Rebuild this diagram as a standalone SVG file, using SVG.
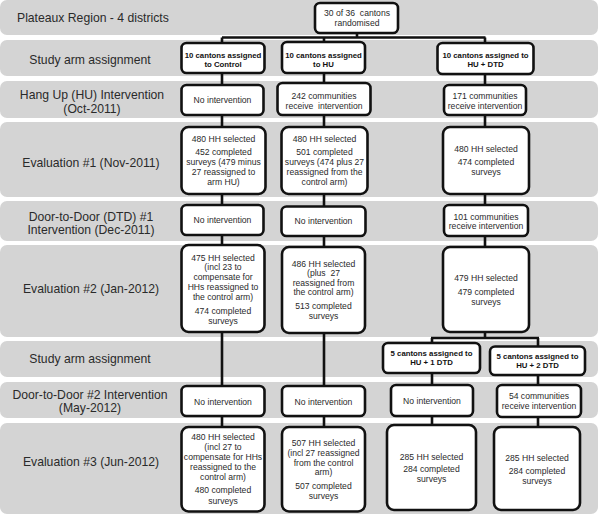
<svg xmlns="http://www.w3.org/2000/svg" width="600" height="514" viewBox="0 0 600 514">
<style>
.band{fill:#d4d4d4}
.lbl{font-family:"Liberation Sans",Arial,sans-serif;font-size:12.2px;fill:#2a2a2a;text-anchor:middle}
.box{fill:#fff;stroke:#111;stroke-width:2.6}
.t{font-family:"Liberation Sans",Arial,sans-serif;font-size:8.6px;fill:#2a2a2a;text-anchor:middle}
.b{font-weight:bold;fill:#111;font-size:7.8px}
.ln{stroke:#111;stroke-width:2.6;fill:none}
</style>
<g id="bands">
<rect class="band" x="0" y="0" width="598" height="35" rx="7"/>
<rect class="band" x="0" y="40" width="598" height="36" rx="7"/>
<rect class="band" x="0" y="81" width="598" height="37" rx="7"/>
<rect class="band" x="0" y="122" width="598" height="75" rx="7"/>
<rect class="band" x="0" y="201" width="598" height="40" rx="7"/>
<rect class="band" x="0" y="245" width="598" height="92" rx="7"/>
<rect class="band" x="0" y="341" width="598" height="36" rx="7"/>
<rect class="band" x="0" y="382" width="598" height="36" rx="7"/>
<rect class="band" x="0" y="423" width="598" height="91" rx="7"/>
</g>
<g id="labels">
<text class="lbl" x="17" y="21.5" style="text-anchor:start">Plateaux Region - 4 districts</text>
<text class="lbl" x="90" y="64">Study arm assignment</text>
<text class="lbl" x="92" y="98.5">Hang Up (HU) Intervention</text>
<text class="lbl" x="92" y="112.5">(Oct-2011)</text>
<text class="lbl" x="91" y="167">Evaluation #1 (Nov-2011)</text>
<text class="lbl" x="91" y="221">Door-to-Door (DTD) #1</text>
<text class="lbl" x="91" y="234">Intervention (Dec-2011)</text>
<text class="lbl" x="91" y="293">Evaluation #2 (Jan-2012)</text>
<text class="lbl" x="90" y="363">Study arm assignment</text>
<text class="lbl" x="90" y="399">Door-to-Door #2 Intervention</text>
<text class="lbl" x="90" y="412">(May-2012)</text>
<text class="lbl" x="91" y="466">Evaluation #3 (Jun-2012)</text>
</g>
<g id="connectors">
<path class="ln" d="M357 33V37.5M222 37.5H485.5M222 37.5V427M324 37.5V427M485 37.5V338M431 338H539M432 338V425M538 338V427"/>
</g>
<g id="randomised">
<rect class="box" x="315" y="3" width="83" height="30" rx="5"/>
<text class="t" x="357" y="16" xml:space="preserve">30 of 36  cantons</text>
<text class="t" x="357" y="25.5">randomised</text>
</g>
<g id="arm-control">
<rect class="box" x="181.5" y="43" width="83" height="30" rx="5"/>
<text class="t b" x="223" y="57.5">10 cantons assigned</text>
<text class="t b" x="223" y="66.5">to Control</text>
</g>
<g id="arm-hu">
<rect class="box" x="282" y="42" width="83" height="31" rx="5"/>
<text class="t b" x="323.5" y="57.5">10 cantons assigned</text>
<text class="t b" x="323.5" y="66.5">to HU</text>
</g>
<g id="arm-hudtd">
<rect class="box" x="437.5" y="43" width="96" height="31" rx="5"/>
<text class="t b" x="485.5" y="57.5">10 cantons assigned to</text>
<text class="t b" x="485.5" y="66.5">HU + DTD</text>
</g>
<g id="hu-control">
<rect class="box" x="181.5" y="85" width="82" height="30" rx="5"/>
<text class="t" x="222.5" y="103">No intervention</text>
</g>
<g id="hu-hu">
<rect class="box" x="277.5" y="83" width="93" height="32" rx="5"/>
<text class="t" x="324" y="99">242 communities</text>
<text class="t" x="324" y="108.5" xml:space="preserve">receive  intervention</text>
</g>
<g id="hu-hudtd">
<rect class="box" x="444" y="85" width="82" height="30" rx="5"/>
<text class="t" x="485" y="99">171 communities</text>
<text class="t" x="485" y="108.5">receive intervention</text>
</g>
<g id="eval1-control">
<rect class="box" x="181.5" y="127" width="84" height="67" rx="7"/>
<text class="t" x="223.5" y="142">480 HH selected</text>
<text class="t" x="223.5" y="155">452 completed</text>
<text class="t" x="223.5" y="165">surveys (479 minus</text>
<text class="t" x="223.5" y="175">27 reassigned to</text>
<text class="t" x="223.5" y="185">arm HU)</text>
</g>
<g id="eval1-hu">
<rect class="box" x="281.5" y="127" width="86" height="67" rx="7"/>
<text class="t" x="324.5" y="142">480 HH selected</text>
<text class="t" x="324.5" y="155">501 completed</text>
<text class="t" x="324.5" y="165">surveys (474 plus 27</text>
<text class="t" x="324.5" y="175">reassigned from the</text>
<text class="t" x="324.5" y="185">control arm)</text>
</g>
<g id="eval1-hudtd">
<rect class="box" x="443" y="127" width="86" height="67" rx="7"/>
<text class="t" x="486" y="152">480 HH selected</text>
<text class="t" x="486" y="165">474 completed</text>
<text class="t" x="486" y="175">surveys</text>
</g>
<g id="dtd1-control">
<rect class="box" x="181.5" y="205" width="82" height="30" rx="5"/>
<text class="t" x="222.5" y="223">No intervention</text>
</g>
<g id="dtd1-hu">
<rect class="box" x="281.5" y="206.5" width="84" height="29.5" rx="5"/>
<text class="t" x="323.5" y="224">No intervention</text>
</g>
<g id="dtd1-hudtd">
<rect class="box" x="444" y="205" width="84" height="31" rx="5"/>
<text class="t" x="486" y="219.5">101 communities</text>
<text class="t" x="486" y="229">receive intervention</text>
</g>
<g id="eval2-control">
<rect class="box" x="181.5" y="245" width="83" height="87" rx="7"/>
<text class="t" x="223" y="261">475 HH selected</text>
<text class="t" x="223" y="270">(incl 23 to</text>
<text class="t" x="223" y="280">compensate for</text>
<text class="t" x="223" y="290">HHs reassigned to</text>
<text class="t" x="223" y="300">the control arm)</text>
<text class="t" x="223" y="314">474 completed</text>
<text class="t" x="223" y="324">surveys</text>
</g>
<g id="eval2-hu">
<rect class="box" x="282" y="247" width="83" height="86" rx="7"/>
<text class="t" x="323.5" y="267">486 HH selected</text>
<text class="t" x="323.5" y="276" xml:space="preserve">(plus  27</text>
<text class="t" x="323.5" y="286">reassigned from</text>
<text class="t" x="323.5" y="295">the control arm)</text>
<text class="t" x="323.5" y="309">513 completed</text>
<text class="t" x="323.5" y="319">surveys</text>
</g>
<g id="eval2-hudtd">
<rect class="box" x="443" y="247" width="86" height="85" rx="7"/>
<text class="t" x="486" y="281">479 HH selected</text>
<text class="t" x="486" y="295">479 completed</text>
<text class="t" x="486" y="305">surveys</text>
</g>
<g id="arm-hu1dtd">
<rect class="box" x="383" y="343" width="97" height="30" rx="5"/>
<text class="t b" x="431.5" y="355.5">5 cantons assigned to</text>
<text class="t b" x="431.5" y="364.5">HU + 1 DTD</text>
</g>
<g id="arm-hu2dtd">
<rect class="box" x="490" y="346.5" width="95" height="28.5" rx="5"/>
<text class="t b" x="537.5" y="358.5">5 cantons assigned to</text>
<text class="t b" x="537.5" y="367.5">HU + 2 DTD</text>
</g>
<g id="dtd2-control">
<rect class="box" x="181.5" y="386" width="83" height="30" rx="5"/>
<text class="t" x="223" y="405">No intervention</text>
</g>
<g id="dtd2-hu">
<rect class="box" x="282" y="386" width="83" height="30" rx="5"/>
<text class="t" x="323.5" y="405">No intervention</text>
</g>
<g id="dtd2-hu1dtd">
<rect class="box" x="391" y="385" width="82" height="31" rx="5"/>
<text class="t" x="432" y="404">No intervention</text>
</g>
<g id="dtd2-hu2dtd">
<rect class="box" x="497" y="385" width="84" height="32" rx="5"/>
<text class="t" x="539" y="399">54 communities</text>
<text class="t" x="539" y="408.5">receive intervention</text>
</g>
<g id="eval3-control">
<rect class="box" x="181.5" y="427" width="83" height="84.5" rx="7"/>
<text class="t" x="223" y="440">480 HH selected</text>
<text class="t" x="223" y="449.5">(incl 27 to</text>
<text class="t" x="223" y="459.5">compensate for HHs</text>
<text class="t" x="223" y="469.5">reassigned to the</text>
<text class="t" x="223" y="479.5">control arm)</text>
<text class="t" x="223" y="493">480 completed</text>
<text class="t" x="223" y="503.5">surveys</text>
</g>
<g id="eval3-hu">
<rect class="box" x="282" y="427" width="83" height="84.5" rx="7"/>
<text class="t" x="323.5" y="446">507 HH selected</text>
<text class="t" x="323.5" y="455.5">(incl 27 reassigned</text>
<text class="t" x="323.5" y="465.5">from the control</text>
<text class="t" x="323.5" y="475">arm)</text>
<text class="t" x="323.5" y="489">507 completed</text>
<text class="t" x="323.5" y="499">surveys</text>
</g>
<g id="eval3-hu1dtd">
<rect class="box" x="387" y="425" width="89" height="85" rx="7"/>
<text class="t" x="431.5" y="460">285 HH selected</text>
<text class="t" x="431.5" y="472">284 completed</text>
<text class="t" x="431.5" y="482">surveys</text>
</g>
<g id="eval3-hu2dtd">
<rect class="box" x="494" y="427" width="86" height="83" rx="7"/>
<text class="t" x="537" y="461">285 HH selected</text>
<text class="t" x="537" y="474">284 completed</text>
<text class="t" x="537" y="484">surveys</text>
</g>
</svg>
